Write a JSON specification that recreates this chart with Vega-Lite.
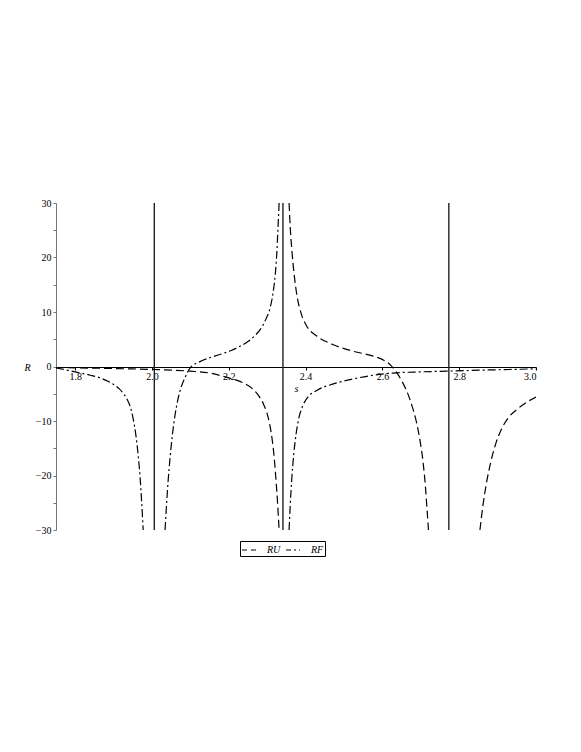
{
  "$schema": "https://vega.github.io/schema/vega-lite/v6.json",
  "autosize": "none",
  "width": 480,
  "height": 327,
  "padding": {"left": 56, "top": 203, "right": 45, "bottom": 222},
  "background": "white",
  "config": {
    "view": {"stroke": null},
    "font": "Liberation Serif",
    "axis": {"labelFont": "Liberation Serif", "titleFont": "Liberation Serif", "labelColor": "black", "titleColor": "black", "labelFontSize": 10, "grid": false}
  },
  "datasets": {
    "curves": [
      {"series": "RF", "branch": "RF1", "s": 1.75, "R": -0.24},
      {"series": "RF", "branch": "RF1", "s": 1.80, "R": -1.0},
      {"series": "RF", "branch": "RF1", "s": 1.84, "R": -1.6},
      {"series": "RF", "branch": "RF1", "s": 1.865, "R": -2.1},
      {"series": "RF", "branch": "RF1", "s": 1.885, "R": -2.7},
      {"series": "RF", "branch": "RF1", "s": 1.90, "R": -3.3},
      {"series": "RF", "branch": "RF1", "s": 1.915, "R": -4.1},
      {"series": "RF", "branch": "RF1", "s": 1.925, "R": -4.9},
      {"series": "RF", "branch": "RF1", "s": 1.935, "R": -6.0},
      {"series": "RF", "branch": "RF1", "s": 1.943, "R": -7.3},
      {"series": "RF", "branch": "RF1", "s": 1.951, "R": -9.6},
      {"series": "RF", "branch": "RF1", "s": 1.958, "R": -12.6},
      {"series": "RF", "branch": "RF1", "s": 1.964, "R": -16.3},
      {"series": "RF", "branch": "RF1", "s": 1.969, "R": -20.3},
      {"series": "RF", "branch": "RF1", "s": 1.973, "R": -24.8},
      {"series": "RF", "branch": "RF1", "s": 1.977, "R": -30},
      {"series": "RF", "branch": "RF2", "s": 2.034, "R": -30},
      {"series": "RF", "branch": "RF2", "s": 2.038, "R": -25.2},
      {"series": "RF", "branch": "RF2", "s": 2.042, "R": -21.0},
      {"series": "RF", "branch": "RF2", "s": 2.047, "R": -16.8},
      {"series": "RF", "branch": "RF2", "s": 2.053, "R": -12.6},
      {"series": "RF", "branch": "RF2", "s": 2.06, "R": -8.9},
      {"series": "RF", "branch": "RF2", "s": 2.067, "R": -6.2},
      {"series": "RF", "branch": "RF2", "s": 2.075, "R": -4.0},
      {"series": "RF", "branch": "RF2", "s": 2.085, "R": -2.2},
      {"series": "RF", "branch": "RF2", "s": 2.099, "R": -0.3},
      {"series": "RF", "branch": "RF2", "s": 2.125, "R": 0.9},
      {"series": "RF", "branch": "RF2", "s": 2.15, "R": 1.6},
      {"series": "RF", "branch": "RF2", "s": 2.177, "R": 2.2},
      {"series": "RF", "branch": "RF2", "s": 2.205, "R": 2.9},
      {"series": "RF", "branch": "RF2", "s": 2.229, "R": 3.7},
      {"series": "RF", "branch": "RF2", "s": 2.25, "R": 4.6},
      {"series": "RF", "branch": "RF2", "s": 2.267, "R": 5.6},
      {"series": "RF", "branch": "RF2", "s": 2.283, "R": 6.9},
      {"series": "RF", "branch": "RF2", "s": 2.296, "R": 8.6},
      {"series": "RF", "branch": "RF2", "s": 2.307, "R": 10.6},
      {"series": "RF", "branch": "RF2", "s": 2.315, "R": 13.4},
      {"series": "RF", "branch": "RF2", "s": 2.321, "R": 16.9},
      {"series": "RF", "branch": "RF2", "s": 2.325, "R": 20.8},
      {"series": "RF", "branch": "RF2", "s": 2.328, "R": 25.2},
      {"series": "RF", "branch": "RF2", "s": 2.331, "R": 30},
      {"series": "RF", "branch": "RF3", "s": 2.357, "R": -30},
      {"series": "RF", "branch": "RF3", "s": 2.36, "R": -25.4},
      {"series": "RF", "branch": "RF3", "s": 2.364, "R": -20.6},
      {"series": "RF", "branch": "RF3", "s": 2.369, "R": -16.2},
      {"series": "RF", "branch": "RF3", "s": 2.375, "R": -12.5},
      {"series": "RF", "branch": "RF3", "s": 2.382, "R": -9.6},
      {"series": "RF", "branch": "RF3", "s": 2.392, "R": -7.3},
      {"series": "RF", "branch": "RF3", "s": 2.405, "R": -5.7},
      {"series": "RF", "branch": "RF3", "s": 2.429, "R": -4.4},
      {"series": "RF", "branch": "RF3", "s": 2.472, "R": -3.2},
      {"series": "RF", "branch": "RF3", "s": 2.516, "R": -2.4},
      {"series": "RF", "branch": "RF3", "s": 2.576, "R": -1.6},
      {"series": "RF", "branch": "RF3", "s": 2.628, "R": -1.2},
      {"series": "RF", "branch": "RF3", "s": 2.7, "R": -0.98},
      {"series": "RF", "branch": "RF3", "s": 2.767, "R": -0.86},
      {"series": "RF", "branch": "RF3", "s": 2.854, "R": -0.67},
      {"series": "RF", "branch": "RF3", "s": 2.93, "R": -0.55},
      {"series": "RF", "branch": "RF3", "s": 3.0, "R": -0.42},
      {"series": "RU", "branch": "RU1", "s": 1.75, "R": -0.2},
      {"series": "RU", "branch": "RU1", "s": 1.85, "R": -0.3},
      {"series": "RU", "branch": "RU1", "s": 1.95, "R": -0.45},
      {"series": "RU", "branch": "RU1", "s": 2.008, "R": -0.55},
      {"series": "RU", "branch": "RU1", "s": 2.1, "R": -0.86},
      {"series": "RU", "branch": "RU1", "s": 2.15, "R": -1.2},
      {"series": "RU", "branch": "RU1", "s": 2.195, "R": -2.0},
      {"series": "RU", "branch": "RU1", "s": 2.22, "R": -2.5},
      {"series": "RU", "branch": "RU1", "s": 2.243, "R": -3.2},
      {"series": "RU", "branch": "RU1", "s": 2.262, "R": -4.1},
      {"series": "RU", "branch": "RU1", "s": 2.278, "R": -5.4},
      {"series": "RU", "branch": "RU1", "s": 2.291, "R": -7.0},
      {"series": "RU", "branch": "RU1", "s": 2.302, "R": -9.2},
      {"series": "RU", "branch": "RU1", "s": 2.31, "R": -12.0},
      {"series": "RU", "branch": "RU1", "s": 2.317, "R": -15.8},
      {"series": "RU", "branch": "RU1", "s": 2.322, "R": -20.0},
      {"series": "RU", "branch": "RU1", "s": 2.327, "R": -25.0},
      {"series": "RU", "branch": "RU1", "s": 2.331, "R": -30},
      {"series": "RU", "branch": "RU2", "s": 2.357, "R": 30},
      {"series": "RU", "branch": "RU2", "s": 2.36, "R": 25.5},
      {"series": "RU", "branch": "RU2", "s": 2.364, "R": 21.5},
      {"series": "RU", "branch": "RU2", "s": 2.37, "R": 17.0},
      {"series": "RU", "branch": "RU2", "s": 2.378, "R": 12.8},
      {"series": "RU", "branch": "RU2", "s": 2.389, "R": 9.6},
      {"series": "RU", "branch": "RU2", "s": 2.403, "R": 7.4},
      {"series": "RU", "branch": "RU2", "s": 2.429, "R": 5.6},
      {"series": "RU", "branch": "RU2", "s": 2.472, "R": 4.0},
      {"series": "RU", "branch": "RU2", "s": 2.524, "R": 2.8},
      {"series": "RU", "branch": "RU2", "s": 2.576, "R": 1.9},
      {"series": "RU", "branch": "RU2", "s": 2.605, "R": 1.1},
      {"series": "RU", "branch": "RU2", "s": 2.622, "R": 0.2},
      {"series": "RU", "branch": "RU2", "s": 2.636, "R": -1.0},
      {"series": "RU", "branch": "RU2", "s": 2.65, "R": -2.6},
      {"series": "RU", "branch": "RU2", "s": 2.664, "R": -4.6},
      {"series": "RU", "branch": "RU2", "s": 2.677, "R": -7.2},
      {"series": "RU", "branch": "RU2", "s": 2.689, "R": -10.3},
      {"series": "RU", "branch": "RU2", "s": 2.698, "R": -13.6},
      {"series": "RU", "branch": "RU2", "s": 2.706, "R": -17.6},
      {"series": "RU", "branch": "RU2", "s": 2.712, "R": -22.0},
      {"series": "RU", "branch": "RU2", "s": 2.716, "R": -26.0},
      {"series": "RU", "branch": "RU2", "s": 2.72, "R": -30},
      {"series": "RU", "branch": "RU3", "s": 2.854, "R": -30},
      {"series": "RU", "branch": "RU3", "s": 2.862, "R": -25.4},
      {"series": "RU", "branch": "RU3", "s": 2.871, "R": -21.4},
      {"series": "RU", "branch": "RU3", "s": 2.882, "R": -17.6},
      {"series": "RU", "branch": "RU3", "s": 2.895, "R": -14.2},
      {"series": "RU", "branch": "RU3", "s": 2.91, "R": -11.5},
      {"series": "RU", "branch": "RU3", "s": 2.928, "R": -9.4},
      {"series": "RU", "branch": "RU3", "s": 2.95, "R": -7.9},
      {"series": "RU", "branch": "RU3", "s": 2.975, "R": -6.6},
      {"series": "RU", "branch": "RU3", "s": 3.0, "R": -5.6}
    ],
    "asymptotes": [
      {"s": 2.006},
      {"s": 2.341},
      {"s": 2.773}
    ]
  },
  "layer": [
    {
      "data": {"name": "asymptotes"},
      "mark": {"type": "rule", "color": "#222222", "strokeWidth": 1.4},
      "encoding": {
        "x": {"field": "s", "type": "quantitative", "scale": {"domain": [1.75, 3.0], "nice": false, "zero": false}}
      }
    },
    {
      "data": {"name": "curves"},
      "mark": {"type": "line", "color": "black", "strokeWidth": 1.2, "clip": true, "interpolate": "monotone"},
      "encoding": {
        "x": {
          "field": "s", "type": "quantitative",
          "scale": {"domain": [1.75, 3.0], "nice": false, "zero": false},
          "axis": {
            "title": "s", "titleFontStyle": "italic", "titleFontWeight": "normal", "titleFontSize": 10,
            "offset": -163, "domainColor": "black", "tickColor": "black", "tickSize": 3,
            "values": [1.8, 1.9, 2.0, 2.1, 2.2, 2.3, 2.4, 2.5, 2.6, 2.7, 2.8, 2.9, 3.0],
            "labelExpr": "abs(round(datum.value*10)) % 2 == 0 ? format(datum.value, '.1f') : ''",
            "labelPadding": 1, "titleX": 240, "titleY": 21, "titleBaseline": "middle"
          }
        },
        "y": {
          "field": "R", "type": "quantitative",
          "scale": {"domain": [-30, 30], "nice": false},
          "axis": {
            "title": "R", "titleFontStyle": "italic", "titleFontWeight": "normal", "titleFontSize": 10,
            "titleAngle": 0, "titleX": -29, "titleY": 164, "titleAlign": "center", "titleBaseline": "middle",
            "domainColor": "#777777", "tickColor": "#777777", "tickSize": 3,
            "values": [-30, -25, -20, -15, -10, -5, 0, 5, 10, 15, 20, 25, 30],
            "labelExpr": "datum.value % 10 == 0 ? datum.label : ''",
            "labelPadding": 2
          }
        },
        "detail": {"field": "branch"},
        "strokeDash": {
          "field": "series", "type": "nominal",
          "scale": {"domain": ["RU", "RF"], "range": [[8, 4], [8, 3, 2, 3]]},
          "legend": {
            "title": null, "orient": "none", "direction": "horizontal",
            "legendX": 184, "legendY": 338, "padding": 1,
            "strokeColor": "black", "symbolType": "stroke", "symbolSize": 196,
            "symbolStrokeColor": "black", "symbolStrokeWidth": 1.2, "symbolDashOffset": 3,
            "labelFont": "Liberation Serif", "labelFontStyle": "italic", "labelFontSize": 10,
            "labelColor": "black", "columnPadding": 2, "labelOffset": 10
          }
        }
      }
    }
  ]
}
